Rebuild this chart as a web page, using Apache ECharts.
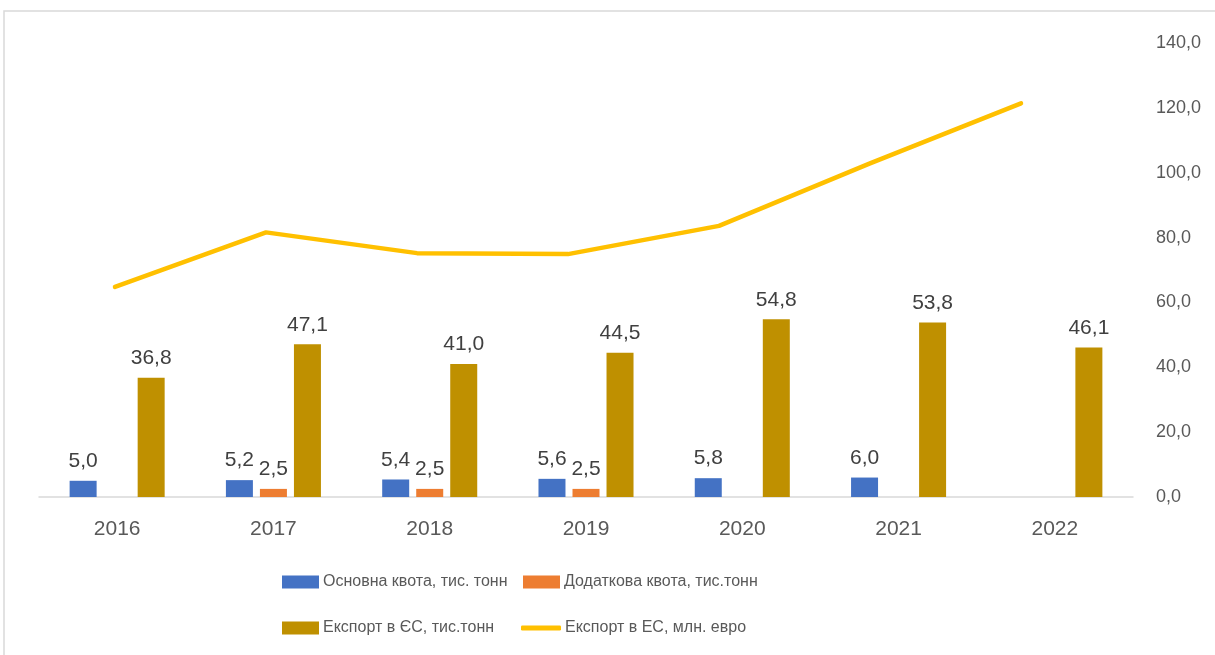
<!DOCTYPE html>
<html>
<head>
<meta charset="utf-8">
<script src="https://cdn.jsdelivr.net/npm/echarts@6/dist/echarts.min.js"></script>
<style>
  html, body { margin: 0; padding: 0; background: #fff; }
  #chart { width: 1215px; height: 655px; }
</style>
</head>
<body>
<div id="chart"></div>
<script>
// дані
const years = ['2016', '2017', '2018', '2019', '2020', '2021', '2022']
const mainQuota = [5.0, 5.2, 5.4, 5.6, 5.8, 6.0, null]
const extraQuota = [null, 2.5, 2.5, 2.5, null, null, null]
const exportTons = [36.8, 47.1, 41.0, 44.5, 54.8, 53.8, 46.1]
const exportEuro = [64.8, 81.6, 75.2, 74.9, 83.6, 102.9, 121.4]
const axisTicks = [0, 20, 40, 60, 80, 100, 120, 140]

const names = [
  'Основна квота, тис. тонн',
  'Додаткова квота, тис.тонн',
  'Експорт в ЄС, тис.тонн',
  'Експорт в ЕС, млн. евро'
]

const font = '"Liberation Sans", Arial, sans-serif'
const fmt = (v) => (v == null ? '' : Number(v).toFixed(1).replace('.', ','))

const chart = echarts.init(document.getElementById('chart'))

const labelCfg = {
  show: true,
  position: 'top',
  distance: 9,
  color: '#404040',
  fontSize: 21,
  fontFamily: font,
  formatter: (p) => fmt(p.value)
}

// легенда: 2 x 2
const legendPos = [
  { left: 282, top: 574 },
  { left: 523, top: 574 },
  { left: 282, top: 620 },
  { left: 521, top: 620 }
]
const legends = names.map((n, i) => ({
  data: [n],
  left: legendPos[i].left,
  top: legendPos[i].top,
  padding: 0,
  icon: i === 3 ? 'roundRect' : 'rect',
  itemWidth: i === 3 ? 40 : 37,
  itemHeight: i === 3 ? 5 : 13,
  itemGap: 4,
  selectedMode: false,
  textStyle: { color: '#595959', fontSize: 16, fontFamily: font, padding: [0, 0, 0, -1] }
}))

const option = {
  animation: false,
  backgroundColor: '#fff',
  graphic: [
    {
      type: 'rect',
      shape: { x: 4, y: 11, width: 1230, height: 700 },
      style: { fill: 'none', stroke: '#d9d9d9', lineWidth: 1.5 }
    }
  ],
  legend: legends,
  grid: [
    { left: 39, right: 82, top: 43, bottom: 158 },
    { left: 39.5, width: 1057, top: 43, bottom: 158 }
  ],
  xAxis: [
    {
      type: 'category',
      gridIndex: 0,
      data: years,
      axisLine: { lineStyle: { color: '#d9d9d9', width: 1.5 } },
      axisTick: { show: false },
      axisLabel: { color: '#595959', fontSize: 21, fontFamily: font, margin: 22 }
    },
    {
      type: 'category',
      gridIndex: 1,
      data: years,
      show: false
    }
  ],
  yAxis: [
    {
      type: 'value',
      gridIndex: 0,
      position: 'right',
      min: axisTicks[0],
      max: axisTicks[axisTicks.length - 1],
      interval: 20,
      splitLine: { show: false },
      axisLine: { show: false },
      axisTick: { show: false },
      axisLabel: {
        color: '#595959',
        fontSize: 18,
        fontFamily: font,
        margin: 23,
        formatter: fmt
      }
    },
    {
      type: 'value',
      gridIndex: 1,
      min: axisTicks[0],
      max: axisTicks[axisTicks.length - 1],
      show: false
    }
  ],
  series: [
    {
      name: names[0],
      type: 'bar',
      data: mainQuota,
      barWidth: 27,
      barGap: '26%',
      itemStyle: { color: '#4472C4' },
      label: labelCfg
    },
    {
      name: names[1],
      type: 'bar',
      data: extraQuota,
      barWidth: 27,
      barGap: '26%',
      itemStyle: { color: '#ED7D31' },
      label: labelCfg
    },
    {
      name: names[2],
      type: 'bar',
      data: exportTons,
      barWidth: 27,
      barGap: '26%',
      itemStyle: { color: '#BF9000' },
      label: labelCfg
    },
    {
      name: names[3],
      type: 'line',
      xAxisIndex: 1,
      yAxisIndex: 1,
      data: exportEuro,
      symbol: 'none',
      lineStyle: { color: '#FFC000', width: 4.5, cap: 'round', join: 'round' },
      itemStyle: { color: '#FFC000' }
    }
  ]
}

chart.setOption(option)
</script>
</body>
</html>
